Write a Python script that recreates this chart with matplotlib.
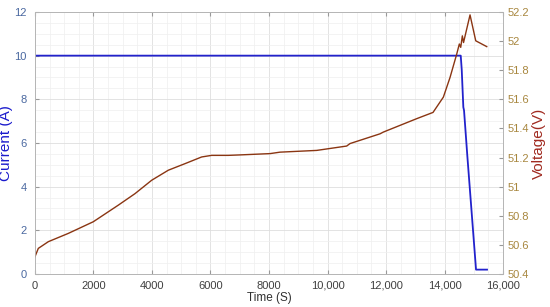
import matplotlib
matplotlib.use("Agg")
import matplotlib.pyplot as plt
from matplotlib.ticker import MultipleLocator

plt.rcParams['font.family'] = ['Liberation Sans', 'DejaVu Sans']

# Current (A) vs time (s)
cur_t = [0, 2000, 6000, 10000, 14000, 14554, 14588, 14643, 14667, 14780, 15077, 15453]
cur_i = [10.0, 10.0, 10.0, 10.0, 10.0, 10.0, 9.36, 7.64, 7.49, 5.4, 0.2, 0.2]

# Voltage (V) vs time (s)
volt_t = [0, 114, 456, 1140, 1994, 2849, 3419, 3989, 4558, 5128, 5698, 6040, 6610,
          7000, 8034, 8376, 9630, 10656, 10769, 11795, 11909, 13048, 13607,
          13960, 14188, 14416, 14506, 14554, 14609, 14650, 14872, 15067, 15443]
volt_v = [50.519, 50.576, 50.622, 50.679, 50.759, 50.873, 50.952, 51.044, 51.113,
          51.158, 51.204, 51.215, 51.215, 51.218, 51.227, 51.237, 51.249, 51.279,
          51.296, 51.363, 51.375, 51.467, 51.51, 51.615, 51.75, 51.91, 51.98,
          51.957, 52.036, 51.99, 52.18, 52.002, 51.962]

x_ticks = [0, 2000, 4000, 6000, 8000, 10000, 12000, 14000, 16000]
x_labels = ['0', '2000', '4000', '6000', '8000', '10,000', '12,000', '14,000', '16,000']
i_ticks = [0, 2, 4, 6, 8, 10, 12]
v_ticks = [50.4, 50.6, 50.8, 51.0, 51.2, 51.4, 51.6, 51.8, 52.0, 52.2]
v_labels = ['50.4', '50.6', '50.8', '51', '51.2', '51.4', '51.6', '51.8', '52', '52.2']

fig = plt.figure(figsize=(5.5, 3.07), dpi=100)
ax = fig.add_axes([0.0636, 0.1075, 0.851, 0.8535])
ax2 = ax.twinx()

ax.plot(cur_t, cur_i, color='#2222cc', lw=1.3)
ax2.plot(volt_t, volt_v, color='#8a3512', lw=1.0)

ax.set_xlim(0, 16000)
ax.set_ylim(0, 12)
ax2.set_ylim(50.4, 52.2)

ax.set_xticks(x_ticks)
ax.set_xticklabels(x_labels)
ax.set_yticks(i_ticks)
ax2.set_yticks(v_ticks)
ax2.set_yticklabels(v_labels)
ax.xaxis.set_minor_locator(MultipleLocator(500))
ax.yaxis.set_minor_locator(MultipleLocator(0.5))

ax.grid(True, which='major', color='#dedede', lw=0.6)
ax.grid(True, which='minor', color='#efefef', lw=0.5)
ax.set_axisbelow(True)

for a in (ax, ax2):
    for s in a.spines.values():
        s.set_color('#b5b5b5')
        s.set_linewidth(0.6)

ax.tick_params(axis='x', direction='in', top=True, labelsize=8, labelcolor='#404040',
               color='#999999', length=3, pad=5)
ax.tick_params(axis='x', which='minor', length=0, top=False)
ax.tick_params(axis='y', which='minor', length=0)
ax.tick_params(axis='y', direction='in', labelsize=8, labelcolor='#4a68a0',
               color='#999999', length=3, pad=6)
ax2.tick_params(axis='y', direction='in', labelsize=8, labelcolor='#a8873f',
                color='#999999', length=3, pad=3)

ax.set_xlabel('Time (S)', fontsize=8.5, color='#303030', labelpad=1)
ax.set_ylabel('Current (A)', fontsize=11, color='#1a1acc', labelpad=1)
ax2.set_ylabel('Voltage(V)', fontsize=11, color='#a02a20', labelpad=2)

fig.savefig('out.png', dpi=100)
